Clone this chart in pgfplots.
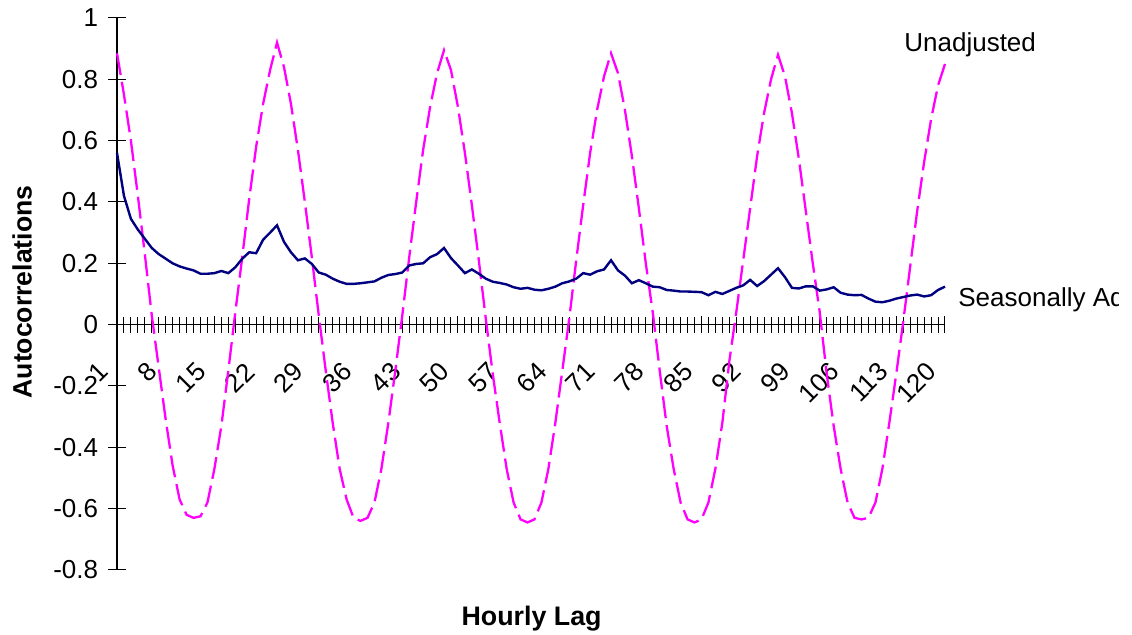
\documentclass[border=0pt]{standalone}
\usepackage{fontspec}
\setmainfont{Liberation Sans}
\usepackage{pgfplots}
\pgfplotsset{compat=1.18}
\definecolor{navyc}{HTML}{000080}
\definecolor{magc}{HTML}{FF00FF}
\pgfplotstableread{
lag val
1 0.885
2 0.75
3 0.60
4 0.42
5 0.23
6 0.03
7 -0.14
8 -0.31
9 -0.46
10 -0.57
11 -0.62
12 -0.63
13 -0.625
14 -0.58
15 -0.47
16 -0.33
17 -0.15
18 0.04
19 0.22
20 0.41
21 0.58
22 0.72
23 0.83
24 0.92
25 0.84
26 0.72
27 0.57
28 0.40
29 0.22
30 0.03
31 -0.15
32 -0.32
33 -0.47
34 -0.57
35 -0.63
36 -0.64
37 -0.63
38 -0.58
39 -0.47
40 -0.32
41 -0.15
42 0.03
43 0.22
44 0.40
45 0.57
46 0.71
47 0.82
48 0.895
49 0.83
50 0.71
51 0.56
52 0.39
53 0.21
54 0.02
55 -0.16
56 -0.32
57 -0.47
58 -0.58
59 -0.635
60 -0.645
61 -0.635
62 -0.58
63 -0.47
64 -0.32
65 -0.15
66 0.02
67 0.21
68 0.39
69 0.56
70 0.70
71 0.81
72 0.885
73 0.82
74 0.70
75 0.55
76 0.38
77 0.20
78 0.04
79 -0.15
80 -0.33
81 -0.47
82 -0.58
83 -0.635
84 -0.645
85 -0.635
86 -0.58
87 -0.47
88 -0.32
89 -0.12
90 0.04
91 0.21
92 0.38
93 0.55
94 0.69
95 0.80
96 0.88
97 0.81
98 0.69
99 0.54
100 0.37
101 0.20
102 0.04
103 -0.16
104 -0.33
105 -0.47
106 -0.58
107 -0.63
108 -0.635
109 -0.63
110 -0.58
111 -0.47
112 -0.32
113 -0.16
114 0.01
115 0.19
116 0.37
117 0.53
118 0.67
119 0.78
120 0.85
}\unadj
\pgfplotstableread{
lag val
1 0.56
2 0.42
3 0.345
4 0.31
5 0.28
6 0.25
7 0.23
8 0.215
9 0.20
10 0.19
11 0.183
12 0.177
13 0.166
14 0.166
15 0.168
16 0.175
17 0.168
18 0.187
19 0.215
20 0.236
21 0.233
22 0.277
23 0.30
24 0.324
25 0.27
26 0.236
27 0.21
28 0.216
29 0.198
30 0.17
31 0.163
32 0.15
33 0.14
34 0.133
35 0.133
36 0.135
37 0.138
38 0.141
39 0.153
40 0.162
41 0.165
42 0.17
43 0.193
44 0.198
45 0.20
46 0.22
47 0.23
48 0.25
49 0.217
50 0.193
51 0.168
52 0.18
53 0.166
54 0.15
55 0.14
56 0.136
57 0.131
58 0.122
59 0.117
60 0.12
61 0.114
62 0.112
63 0.117
64 0.124
65 0.135
66 0.141
67 0.15
68 0.168
69 0.163
70 0.174
71 0.18
72 0.21
73 0.177
74 0.16
75 0.135
76 0.145
77 0.135
78 0.124
79 0.122
80 0.113
81 0.111
82 0.108
83 0.108
84 0.107
85 0.106
86 0.096
87 0.107
88 0.10
89 0.11
90 0.12
91 0.128
92 0.146
93 0.126
94 0.142
95 0.163
96 0.184
97 0.155
98 0.12
99 0.118
100 0.125
101 0.125
102 0.111
103 0.115
104 0.122
105 0.104
106 0.098
107 0.096
108 0.097
109 0.085
110 0.075
111 0.073
112 0.078
113 0.085
114 0.09
115 0.095
116 0.098
117 0.092
118 0.096
119 0.113
120 0.124
}\seas
\begin{document}
\begin{tikzpicture}
\useasboundingbox (0,0) rectangle (566pt,317.5pt);
\begin{axis}[
  at={(58.5pt,32.5pt)}, anchor=south west,
  scale only axis, width=414pt, height=276pt,
  xmin=1, xmax=120, ymin=-0.8, ymax=1,
  axis x line=middle, axis y line=left,
  axis line style={-, black, line width=0.6pt},
  every inner x axis line/.append style={-},
  every outer y axis line/.append style={-},
  xtick={1,8,15,22,29,36,43,50,57,64,71,78,85,92,99,106,113,120},
  xticklabels={1,8,15,22,29,36,43,50,57,64,71,78,85,92,99,106,113,120},
  minor xtick={1,...,120},
  ytick={-0.8,-0.6,-0.4,-0.2,0,0.2,0.4,0.6,0.8,1},
  yticklabels={-0.8,-0.6,-0.4,-0.2,0,0.2,0.4,0.6,0.8,1},
  tick align=center, major tick length=8.5pt, minor tick length=8pt,
  tick style={black, line width=0.5pt},
  minor tick style={black, line width=0.5pt},
  hide obscured x ticks=false, hide obscured y ticks=false,
  tick label style={font=\fontsize{13}{15}\selectfont},
  xticklabel style={inner sep=0pt, xshift=-6.5pt, yshift=-17pt, rotate=45, anchor=east},
  yticklabel style={inner sep=0pt, anchor=east, xshift=-5pt},
  clip=false,
]
\addplot[magc, line width=1.15pt, dash pattern=on 11pt off 3.5pt] table[x=lag,y=val] {\unadj};
\addplot[navyc, line width=1.2pt] table[x=lag,y=val] {\seas};
\end{axis}
\node[font=\fontsize{13.3}{15}\selectfont\bfseries, rotate=90, inner sep=0pt] at (11pt,171.5pt) {Autocorrelations};
\node[font=\fontsize{13.4}{15}\selectfont\bfseries, inner sep=0pt, anchor=base] at (265.8pt,4.5pt) {Hourly Lag};
\node[font=\fontsize{13}{15}\selectfont, inner sep=0pt, anchor=base west] at (452pt,291.7pt) {Unadjusted};
\begin{scope}
\clip (0,0) rectangle (559pt,317.5pt);
\node[font=\fontsize{13}{15}\selectfont, inner sep=0pt, anchor=base west] at (479pt,164pt) {Seasonally Adjusted};
\end{scope}
\end{tikzpicture}
\end{document}
